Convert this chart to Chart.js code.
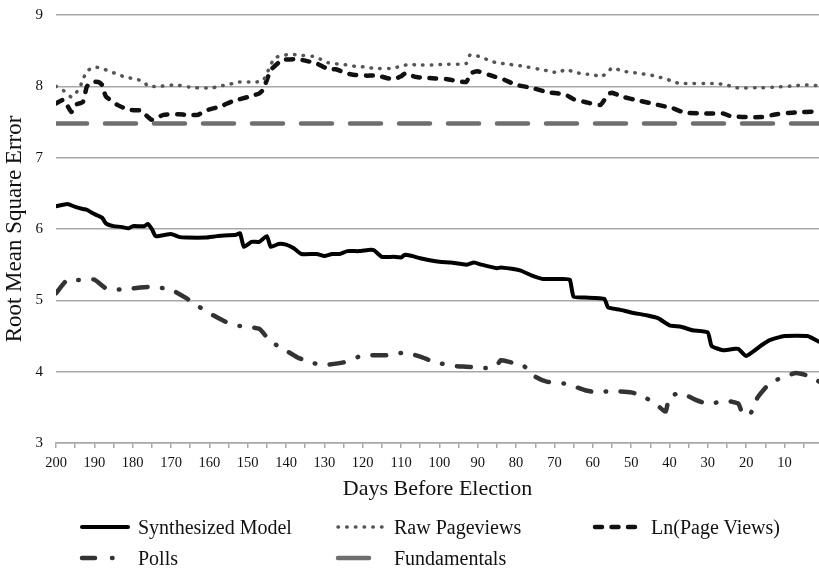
<!DOCTYPE html>
<html>
<head>
<meta charset="utf-8">
<script src="https://cdn.jsdelivr.net/npm/chart.js@4.4.1/dist/chart.umd.min.js"></script>
<style>
  body { margin: 0; background: #fff; }
  #wrap { position: relative; width: 819px; height: 569px; }
  #wrap canvas { position: absolute; left: 0; top: 0; }
  #legend { position: absolute; left: 0; top: 512px; width: 819px; font-family: "Liberation Serif", "Times New Roman", serif; font-size: 20px; color: #111; }
  .item { position: absolute; display: flex; align-items: center; height: 30px; white-space: nowrap; }
  .item svg { margin-right: 5px; }
</style>
</head>
<body>
<div id="wrap">
  <canvas id="chart" width="819" height="569"></canvas>
  <div id="legend"></div>
</div>
<script>
// values (days before election -> RMSE)
const synthDays = [200, 197, 195, 193, 192, 190, 188, 187, 185, 183, 181, 180, 177, 176, 175, 174, 170, 168, 166, 161, 158, 153, 152, 151, 149, 147, 145, 144, 142, 140, 138, 136, 132, 130, 128, 126, 124, 121, 118, 117, 115, 112, 110, 109, 107, 105, 100, 97, 93, 91, 89, 85, 84, 79, 76, 73, 68, 66, 65, 62, 57, 56, 53, 50, 46, 43, 40, 37, 34, 30, 29, 26, 23, 22, 20, 16, 14, 10, 4, 1];
const synthValues = [6.32, 6.35, 6.31, 6.28, 6.27, 6.21, 6.16, 6.08, 6.04, 6.03, 6.01, 6.04, 6.04, 6.07, 6.00, 5.90, 5.93, 5.89, 5.88, 5.88, 5.90, 5.92, 5.94, 5.75, 5.82, 5.82, 5.90, 5.75, 5.79, 5.78, 5.73, 5.65, 5.65, 5.62, 5.65, 5.65, 5.69, 5.69, 5.71, 5.70, 5.61, 5.61, 5.60, 5.64, 5.62, 5.59, 5.54, 5.53, 5.50, 5.53, 5.50, 5.45, 5.46, 5.42, 5.35, 5.30, 5.30, 5.29, 5.05, 5.04, 5.02, 4.90, 4.87, 4.83, 4.79, 4.75, 4.65, 4.63, 4.58, 4.55, 4.36, 4.30, 4.32, 4.32, 4.22, 4.37, 4.44, 4.50, 4.50, 4.42];

const rawDays = [200, 198, 196, 194, 193, 192, 190, 188, 186, 184, 182, 179, 177, 176, 173, 169, 164, 159, 157, 155, 153, 148, 146, 145, 144, 143, 141, 139, 137, 133, 131, 129, 126, 124, 122, 119, 117, 113, 110, 108, 106, 101, 99, 93, 92, 89, 87, 85, 82, 78, 74, 72, 69, 67, 65, 62, 60, 58, 56, 55, 52, 50, 48, 45, 43, 41, 39, 37, 28, 25, 23, 16, 12, 7, 5, 1];
const rawValues = [8.00, 7.94, 7.85, 7.96, 8.09, 8.21, 8.27, 8.25, 8.21, 8.17, 8.13, 8.10, 8.06, 8.00, 8.00, 8.02, 7.98, 7.98, 8.01, 8.02, 8.06, 8.06, 8.08, 8.18, 8.30, 8.40, 8.43, 8.45, 8.44, 8.42, 8.38, 8.33, 8.31, 8.30, 8.28, 8.27, 8.25, 8.25, 8.28, 8.31, 8.30, 8.30, 8.31, 8.32, 8.44, 8.41, 8.36, 8.33, 8.31, 8.28, 8.24, 8.22, 8.19, 8.24, 8.20, 8.17, 8.17, 8.13, 8.20, 8.26, 8.21, 8.20, 8.18, 8.16, 8.13, 8.11, 8.06, 8.04, 8.04, 8.02, 7.98, 7.98, 7.99, 8.01, 8.02, 8.01];

const lnDays = [200, 198, 196, 195, 193, 192, 191, 189, 188, 187, 184, 181, 178, 176, 175, 172, 168, 166, 163, 161, 157, 154, 150, 147, 146, 145, 144, 142, 141, 137, 135, 132, 129, 127, 124, 122, 119, 116, 114, 112, 110, 109, 106, 101, 98, 93, 92, 90, 87, 83, 80, 76, 72, 69, 67, 65, 62, 58, 56, 55, 52, 48, 43, 39, 36, 30, 26, 24, 21, 16, 12, 8, 1];
const lnValues = [7.76, 7.81, 7.64, 7.74, 7.78, 7.99, 8.06, 8.06, 8.02, 7.86, 7.74, 7.67, 7.66, 7.57, 7.53, 7.60, 7.61, 7.60, 7.60, 7.66, 7.72, 7.79, 7.85, 7.90, 7.95, 8.09, 8.23, 8.33, 8.37, 8.38, 8.36, 8.32, 8.24, 8.24, 8.18, 8.16, 8.15, 8.15, 8.12, 8.10, 8.14, 8.18, 8.13, 8.11, 8.10, 8.06, 8.18, 8.21, 8.16, 8.09, 8.02, 7.98, 7.92, 7.90, 7.88, 7.82, 7.78, 7.74, 7.89, 7.91, 7.85, 7.80, 7.74, 7.69, 7.63, 7.62, 7.62, 7.58, 7.57, 7.57, 7.61, 7.63, 7.65];

const pollDays = [200, 197, 193, 190, 187, 183, 178, 175, 170, 166, 163, 159, 155, 152, 147, 144, 141, 137, 133, 129, 125, 121, 117, 113, 109, 105, 101, 96, 93, 88, 85, 84, 82, 78, 75, 72, 67, 62, 59, 55, 50, 47, 43, 41, 40, 37, 33, 30, 25, 22, 21, 19, 17, 14, 11, 7, 3, 1];
const pollValues = [5.10, 5.29, 5.28, 5.29, 5.17, 5.15, 5.18, 5.19, 5.15, 5.03, 4.92, 4.79, 4.68, 4.64, 4.60, 4.42, 4.33, 4.20, 4.12, 4.10, 4.13, 4.21, 4.23, 4.23, 4.27, 4.21, 4.13, 4.08, 4.07, 4.05, 4.09, 4.16, 4.14, 4.08, 3.93, 3.86, 3.83, 3.74, 3.71, 3.73, 3.71, 3.66, 3.52, 3.44, 3.65, 3.70, 3.60, 3.55, 3.59, 3.55, 3.42, 3.40, 3.64, 3.83, 3.91, 3.98, 3.93, 3.86];

const fundDays = [200, 1];
const fundValues = [7.48, 7.48];

const xTickValues = [200, 195, 190, 185, 180, 175, 170, 165, 160, 155, 150, 145, 140, 135, 130, 125, 120, 115, 110, 105, 100, 95, 90, 85, 80, 75, 70, 65, 60, 55, 50, 45, 40, 35, 30, 25, 20, 15, 10, 5];
const yTickValues = [3, 4, 5, 6, 7, 8, 9];

const serif = '"Liberation Serif", "Times New Roman", serif';
const gridGray = '#a8a8a8';

function pts(days, vals) {
  return days.map((d, i) => ({ x: d, y: vals[i] }));
}

// no extra room for half labels at the plot edges
function noEdgePadding(s) {
  s.paddingTop = 0; s.paddingBottom = 0; s.paddingLeft = 0; s.paddingRight = 0;
}

const chart = new Chart(document.getElementById('chart'), {
  type: 'line',
  data: {
    datasets: [
      { label: 'Fundamentals', data: pts(fundDays, fundValues), borderColor: '#6e6e6e', borderWidth: 4.5, borderDash: [31, 18], tension: 0 },
      { label: 'Raw Pageviews', data: pts(rawDays, rawValues), borderColor: '#555', borderWidth: 3.5, borderDash: [0.5, 8.2] },
      { label: 'Ln(Page Views)', data: pts(lnDays, lnValues), borderColor: '#111', borderWidth: 4.5, borderDash: [7, 9.5] },
      { label: 'Polls', data: pts(pollDays, pollValues), borderColor: '#333', borderWidth: 4.5, borderDash: [14, 14.5, 0.5, 14.5] },
      { label: 'Synthesized Model', data: pts(synthDays, synthValues), borderColor: '#000', borderWidth: 4 }
    ]
  },
  options: {
    responsive: false,
    animation: false,
    layout: { padding: { top: 15, right: 0, bottom: 64, left: 0 } },
    elements: {
      point: { radius: 0 },
      line: { tension: 0.15, borderCapStyle: 'round', borderJoinStyle: 'round', fill: false }
    },
    plugins: { legend: { display: false }, tooltip: { enabled: false } },
    scales: {
      x: {
        type: 'linear', reverse: true, min: 1, max: 200,
        afterBuildTicks: s => { s.ticks = xTickValues.map(v => ({ value: v })); },
        afterFit: s => { s.height = 62; noEdgePadding(s); },
        grid: { drawOnChartArea: false, drawTicks: true, tickLength: 5, color: gridGray, lineWidth: 1.5 },
        border: { display: true, color: gridGray, width: 1.5 },
        ticks: {
          autoSkip: false, maxRotation: 0, padding: 6, color: '#111',
          font: { family: serif, size: 14.5 },
          callback: v => (v % 10 === 0 ? v : '')
        },
        title: { display: true, text: 'Days Before Election', color: '#111', font: { family: serif, size: 22 }, padding: { top: 0, bottom: 3 } }
      },
      y: {
        min: 3, max: 9,
        afterBuildTicks: s => { s.ticks = yTickValues.map(v => ({ value: v })); },
        afterFit: s => { s.width = 56; noEdgePadding(s); },
        grid: { drawTicks: false, color: gridGray, lineWidth: 1.5 },
        border: { display: false },
        ticks: { padding: 13, color: '#111', font: { family: serif, size: 15 } },
        title: { display: true, text: 'Root Mean Square Error', color: '#111', font: { family: serif, size: 23 }, padding: { top: 1, bottom: 0 } }
      }
    }
  }
});

// html legend in three columns, built from the datasets
const legendOrder = ['Synthesized Model', 'Raw Pageviews', 'Ln(Page Views)', 'Polls', 'Fundamentals'];
const legendCols = [79, 335, 592];
const sampleDash = { 'Polls': '13 17 0.5 20' };
const sampleLen = { 'Polls': 36, 'Fundamentals': 38 };
const legendEl = document.getElementById('legend');
legendOrder.forEach((name, i) => {
  const ds = chart.data.datasets.find(d => d.label === name);
  const item = document.createElement('div');
  item.className = 'item';
  item.style.left = legendCols[i % 3] + 'px';
  item.style.top = (Math.floor(i / 3) * 31) + 'px';
  const dash = sampleDash[name] || (ds.borderDash ? ds.borderDash.join(' ') : 'none');
  const len = sampleLen[name] || 50;
  item.innerHTML =
    '<svg width="54" height="12"><line x1="3" y1="6" x2="' + (len - 1) + '" y2="6" stroke="' + ds.borderColor +
    '" stroke-width="' + ds.borderWidth + '" stroke-linecap="round" stroke-dasharray="' + dash + '"/></svg>' +
    '<span>' + name + '</span>';
  legendEl.appendChild(item);
});
</script>
</body>
</html>
